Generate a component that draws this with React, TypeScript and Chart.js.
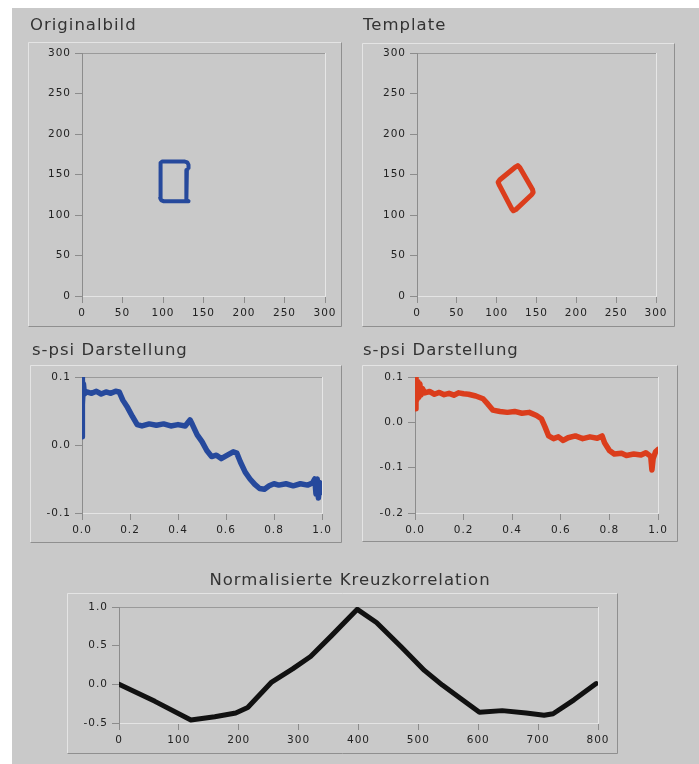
import React, { useEffect, useRef } from "react";
import { Chart, registerables } from "chart.js";

Chart.register(...registerables);

// ---------- data ----------
const ORIG_X = [99, 127, 130, 131.5, 131.5, 129.5, 128.5, 128.5, 129.5, 131.5, 101, 98, 96.5, 96.5, 97.5, 99];
const ORIG_Y = [166, 166, 165, 162, 158, 155.5, 152, 121, 118, 117, 117, 118, 121, 161, 164.5, 166];

const TEMPL_X = [124, 126.5, 129, 145, 145.8, 144.1, 124, 121, 119, 103, 101.8, 104, 124];
const TEMPL_Y = [159.5, 161, 158.6, 131.4, 128, 125.3, 106.7, 105.2, 107.5, 137.5, 140.5, 143.5, 159.5];

const SPSI_ORIG_S = [0.0, 0.0, 0.003, 0.006, 0.01, 0.02, 0.04, 0.06, 0.08, 0.1, 0.12, 0.14, 0.155, 0.17, 0.19, 0.21, 0.23, 0.25, 0.28, 0.31, 0.34, 0.37, 0.4, 0.43, 0.45, 0.46, 0.48, 0.5, 0.52, 0.54, 0.56, 0.58, 0.6, 0.63, 0.645, 0.66, 0.68, 0.7, 0.72, 0.74, 0.76, 0.78, 0.8, 0.82, 0.85, 0.88, 0.91, 0.94, 0.96, 0.97, 0.975, 0.98, 0.985, 0.99, 0.995, 1.0];
const SPSI_ORIG_PSI = [0.012, 0.1, 0.06, 0.09, 0.075, 0.078, 0.076, 0.079, 0.075, 0.078, 0.076, 0.079, 0.078, 0.066, 0.055, 0.042, 0.03, 0.028, 0.031, 0.029, 0.031, 0.028, 0.03, 0.028, 0.037, 0.03, 0.015, 0.005, -0.008, -0.017, -0.015, -0.02, -0.016, -0.01, -0.012, -0.025, -0.04, -0.05, -0.058, -0.064, -0.065, -0.06, -0.057, -0.059, -0.057, -0.06, -0.057, -0.059, -0.056, -0.05, -0.072, -0.05, -0.078, -0.055, -0.07, -0.06];

const SPSI_TEMPL_S = [0.0, 0.004, 0.008, 0.012, 0.016, 0.02, 0.025, 0.03, 0.04, 0.06, 0.08, 0.1, 0.12, 0.14, 0.16, 0.18, 0.2, 0.22, 0.25, 0.28, 0.3, 0.32, 0.35, 0.38, 0.41, 0.44, 0.47, 0.5, 0.52, 0.535, 0.55, 0.57, 0.59, 0.61, 0.63, 0.66, 0.69, 0.72, 0.75, 0.77, 0.78, 0.8, 0.82, 0.85, 0.87, 0.9, 0.93, 0.95, 0.97, 0.975, 0.98, 0.99, 1.0];
const SPSI_TEMPL_PSI = [0.03, 0.1, 0.05, 0.09, 0.055, 0.085, 0.06, 0.075, 0.065, 0.068, 0.062, 0.066, 0.061, 0.064, 0.06, 0.065, 0.063, 0.062, 0.058, 0.052, 0.04, 0.027, 0.024, 0.022, 0.024, 0.02, 0.022, 0.015, 0.008, -0.01, -0.03, -0.036, -0.032, -0.04, -0.034, -0.03, -0.036, -0.032, -0.035, -0.03, -0.045, -0.062, -0.07, -0.068, -0.073, -0.07, -0.072, -0.067, -0.075, -0.105, -0.08, -0.065, -0.06];

const XCORR_LAG = [0, 60, 120, 160, 195, 215, 255, 290, 320, 355, 398, 430, 472, 510, 540, 570, 602, 640, 680, 710, 725, 760, 797];
const XCORR_VALUE = [0.0, -0.22, -0.46, -0.42, -0.37, -0.3, 0.03, 0.2, 0.36, 0.63, 0.97, 0.8, 0.48, 0.18, -0.01, -0.18, -0.36, -0.34, -0.37, -0.4, -0.38, -0.2, 0.01];

// ---------- ticks ----------
const IMG_TICKS = [0, 50, 100, 150, 200, 250, 300];
const IMG_LABELS = ["0", "50", "100", "150", "200", "250", "300"];
const S_TICKS = [0, 0.2, 0.4, 0.6, 0.8, 1.0];
const S_LABELS = ["0.0", "0.2", "0.4", "0.6", "0.8", "1.0"];
const PSI_ORIG_TICKS = [-0.1, 0, 0.1];
const PSI_ORIG_LABELS = ["-0.1", "0.0", "0.1"];
const PSI_TEMPL_TICKS = [-0.2, -0.1, 0, 0.1];
const PSI_TEMPL_LABELS = ["-0.2", "-0.1", "0.0", "0.1"];
const LAG_TICKS = [0, 100, 200, 300, 400, 500, 600, 700, 800];
const LAG_LABELS = ["0", "100", "200", "300", "400", "500", "600", "700", "800"];
const CORR_TICKS = [-0.5, 0, 0.5, 1.0];
const CORR_LABELS = ["-0.5", "0.0", "0.5", "1.0"];

// ---------- styling ----------
const BG = "#c9c9c9";
const FONT_FAMILY = '"DejaVu Sans", sans-serif';
const TITLE_SIZE = 16.5;
const TICK_SIZE = 10.5;
const TITLE_COLOR = "#333333";
const TICK_COLOR = "#222222";
const ORIGIN = [12, 8];

type Spec = {
  id: string;
  canvas: number[];
  frame: number[];
  plot: number[];
  title: string;
  titleX: number;
  titleAlign: "start" | "center";
  titleMid: number;
  xs: number[];
  ys: number[];
  color: string;
  lineWidth: number;
  xRange: number[];
  xTicks: number[];
  xLabels: string[];
  yRange: number[];
  yTicks: number[];
  yLabels: string[];
};

const SPECS: Spec[] = [
  {
    id: "orig", canvas: [26, 12, 318, 318], frame: [28, 42, 341, 326], plot: [82, 53, 325, 296],
    title: "Originalbild", titleX: 30, titleAlign: "start", titleMid: 25.5,
    xs: ORIG_X, ys: ORIG_Y, color: "#26499c", lineWidth: 4,
    xRange: [0, 300], xTicks: IMG_TICKS, xLabels: IMG_LABELS,
    yRange: [0, 300], yTicks: IMG_TICKS, yLabels: IMG_LABELS,
  },
  {
    id: "templ", canvas: [359, 12, 321, 318], frame: [362, 43, 674, 326], plot: [417, 53, 656, 296],
    title: "Template", titleX: 363, titleAlign: "start", titleMid: 25.5,
    xs: TEMPL_X, ys: TEMPL_Y, color: "#db3d1c", lineWidth: 5,
    xRange: [0, 300], xTicks: IMG_TICKS, xLabels: IMG_LABELS,
    yRange: [0, 300], yTicks: IMG_TICKS, yLabels: IMG_LABELS,
  },
  {
    id: "spsi1", canvas: [26, 336, 318, 210], frame: [30, 365, 341, 542], plot: [82, 377, 322, 513],
    title: "s-psi Darstellung", titleX: 32, titleAlign: "start", titleMid: 350.5,
    xs: SPSI_ORIG_S, ys: SPSI_ORIG_PSI, color: "#26499c", lineWidth: 5.5,
    xRange: [0, 1], xTicks: S_TICKS, xLabels: S_LABELS,
    yRange: [-0.1, 0.1], yTicks: PSI_ORIG_TICKS, yLabels: PSI_ORIG_LABELS,
  },
  {
    id: "spsi2", canvas: [359, 336, 321, 210], frame: [362, 365, 677, 541], plot: [415, 377, 658, 513],
    title: "s-psi Darstellung", titleX: 363, titleAlign: "start", titleMid: 350.5,
    xs: SPSI_TEMPL_S, ys: SPSI_TEMPL_PSI, color: "#db3d1c", lineWidth: 5.5,
    xRange: [0, 1], xTicks: S_TICKS, xLabels: S_LABELS,
    yRange: [-0.2, 0.1], yTicks: PSI_TEMPL_TICKS, yLabels: PSI_TEMPL_LABELS,
  },
  {
    id: "xcorr", canvas: [60, 566, 565, 192], frame: [67, 593, 617, 753], plot: [119, 607, 598, 723],
    title: "Normalisierte Kreuzkorrelation", titleX: 350, titleAlign: "center", titleMid: 581,
    xs: XCORR_LAG, ys: XCORR_VALUE, color: "#111111", lineWidth: 5,
    xRange: [0, 800], xTicks: LAG_TICKS, xLabels: LAG_LABELS,
    yRange: [-0.5, 1.0], yTicks: CORR_TICKS, yLabels: CORR_LABELS,
  },
];

function buildConfig(spec: Spec): any {
  const [cx, cy, cw, ch] = spec.canvas;
  const [pl, pt, pr, pb] = spec.plot;
  const yAxisW = pl - cx;
  const padRight = cx + cw - pr;
  const xAxisH = cy + ch - pb;
  const lh = TITLE_SIZE * 1.2;
  const tPadTop = spec.titleMid - cy - lh / 2;
  const tPadBottom = pt - cy - lh - tPadTop;
  const [fl, ft, fr, fb] = spec.frame.map((v, i) => v - (i % 2 === 0 ? cx : cy));

  const tickFont = { family: FONT_FAMILY, size: TICK_SIZE };

  const framePlugin = {
    id: "frame-" + spec.id,
    afterLayout(chart: any) {
      const tb = chart.titleBlock;
      if (!tb) return;
      if (spec.titleAlign === "start") {
        tb.left = spec.titleX - cx;
        tb.right = cw;
      } else {
        tb.left = 0;
        tb.right = 2 * (spec.titleX - cx);
      }
      tb.width = tb.right - tb.left;
    },
    beforeDraw(chart: any) {
      const ctx = chart.ctx;
      (ctx as any).letterSpacing = "1px";
      ctx.save();
      ctx.lineWidth = 1;
      ctx.strokeStyle = "#e4e4e4";
      ctx.beginPath();
      ctx.moveTo(fl + 0.5, fb + 0.5);
      ctx.lineTo(fl + 0.5, ft + 0.5);
      ctx.lineTo(fr + 0.5, ft + 0.5);
      ctx.stroke();
      ctx.strokeStyle = "#8f8f8f";
      ctx.beginPath();
      ctx.moveTo(fr + 0.5, ft + 0.5);
      ctx.lineTo(fr + 0.5, fb + 0.5);
      ctx.lineTo(fl + 0.5, fb + 0.5);
      ctx.stroke();
      const a = chart.chartArea;
      ctx.strokeStyle = "#9a9a9a";
      ctx.beginPath();
      ctx.moveTo(a.left, Math.round(a.top) + 0.5);
      ctx.lineTo(a.right, Math.round(a.top) + 0.5);
      ctx.stroke();
      ctx.strokeStyle = "#e6e6e6";
      ctx.beginPath();
      ctx.moveTo(Math.round(a.right) + 0.5, a.top);
      ctx.lineTo(Math.round(a.right) + 0.5, a.bottom);
      ctx.stroke();
      ctx.restore();
    },
  };

  return {
    type: "scatter",
    data: {
      datasets: [
        {
          data: spec.xs.map((x, i) => ({ x, y: spec.ys[i] })),
          showLine: true,
          borderColor: spec.color,
          backgroundColor: spec.color,
          borderWidth: spec.lineWidth,
          pointRadius: 0,
          fill: false,
          tension: 0,
          borderJoinStyle: "round",
          borderCapStyle: "round",
        },
      ],
    },
    options: {
      responsive: false,
      maintainAspectRatio: false,
      animation: false,
      events: [],
      layout: { padding: { left: 0, right: padRight, top: 0, bottom: 0 } },
      plugins: {
        legend: { display: false },
        tooltip: { enabled: false },
        title: {
          display: true,
          text: spec.title,
          align: spec.titleAlign,
          color: TITLE_COLOR,
          font: { family: FONT_FAMILY, size: TITLE_SIZE, weight: "normal" },
          padding: { top: tPadTop, bottom: tPadBottom },
        },
      },
      scales: {
        x: {
          type: "linear",
          min: spec.xRange[0],
          max: spec.xRange[1],
          afterBuildTicks: (s: any) => {
            s.ticks = spec.xTicks.map((v) => ({ value: v }));
          },
          afterFit: (s: any) => {
            s.height = xAxisH;
          },
          ticks: {
            callback: (_v: any, i: number) => spec.xLabels[i],
            font: tickFont,
            color: TICK_COLOR,
            padding: 4,
            maxRotation: 0,
            autoSkip: false,
          },
          grid: { drawOnChartArea: false, drawTicks: true, tickLength: 7, tickColor: "#8c8c8c" },
          border: { display: true, color: "#e4e4e4", width: 1 },
        },
        y: {
          type: "linear",
          min: spec.yRange[0],
          max: spec.yRange[1],
          afterBuildTicks: (s: any) => {
            s.ticks = spec.yTicks.map((v) => ({ value: v }));
          },
          afterFit: (s: any) => {
            s.width = yAxisW;
          },
          ticks: {
            callback: (_v: any, i: number) => spec.yLabels[i],
            font: tickFont,
            color: TICK_COLOR,
            padding: 4,
            autoSkip: false,
          },
          grid: { drawOnChartArea: false, drawTicks: true, tickLength: 7, tickColor: "#8c8c8c" },
          border: { display: true, color: "#8c8c8c", width: 1 },
        },
      },
    },
    plugins: [framePlugin],
  };
}

function Panel({ spec }: { spec: Spec }) {
  const ref = useRef<HTMLCanvasElement | null>(null);
  useEffect(() => {
    if (!ref.current) return;
    const chart = new Chart(ref.current, buildConfig(spec));
    return () => chart.destroy();
  }, [spec]);
  const [cx, cy, cw, ch] = spec.canvas;
  return (
    <canvas
      ref={ref}
      width={cw}
      height={ch}
      style={{
        position: "absolute",
        left: cx - ORIGIN[0],
        top: cy - ORIGIN[1],
        width: cw,
        height: ch,
        display: "block",
      }}
    />
  );
}

export default function App() {
  return (
    <div
      style={{
        position: "absolute",
        left: ORIGIN[0],
        top: ORIGIN[1],
        width: 699 - ORIGIN[0],
        height: 764 - ORIGIN[1],
        background: BG,
        overflow: "hidden",
      }}
    >
      {SPECS.map((s) => (
        <Panel key={s.id} spec={s} />
      ))}
    </div>
  );
}
